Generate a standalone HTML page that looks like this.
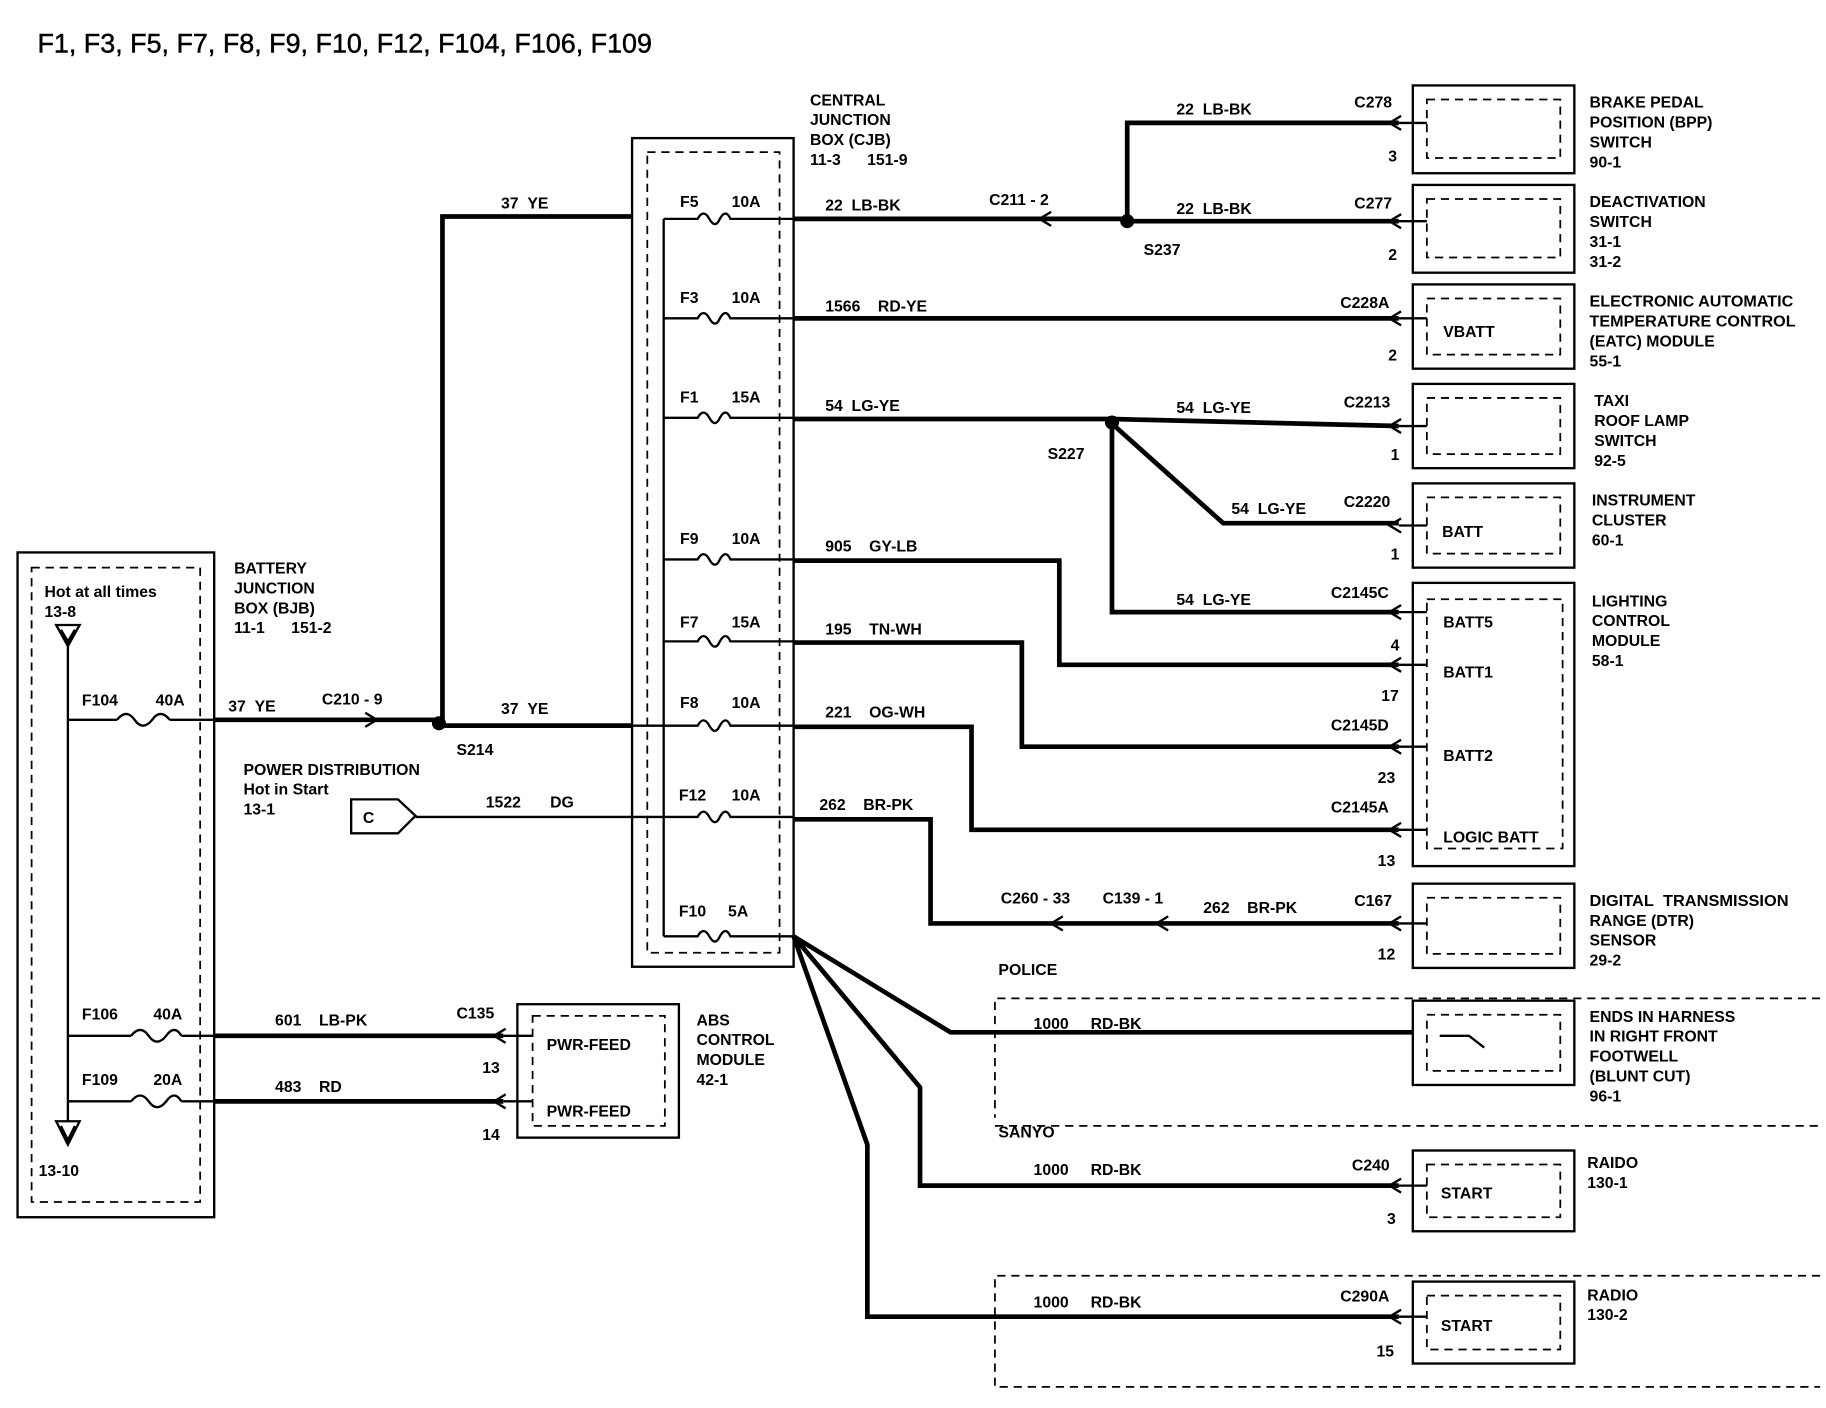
<!DOCTYPE html>
<html><head><meta charset="utf-8"><style>
html,body{margin:0;padding:0;background:#fff}
svg{display:block}
text{font-family:"Liberation Sans",sans-serif;font-size:13.5px;fill:#000;font-weight:bold}
</style></head><body>
<svg width="1826" height="1408" viewBox="0 0 1560 1203" preserveAspectRatio="none" xmlns="http://www.w3.org/2000/svg">
<rect width="1560" height="1203" fill="#fff"/>
<text x="32" y="45" textLength="525" lengthAdjust="spacingAndGlyphs" style="font-size:23px;font-weight:normal;stroke:#000;stroke-width:0.4">F1, F3, F5, F7, F8, F9, F10, F12, F104, F106, F109</text>
<g fill="none" stroke="#000" stroke-width="2">
<rect x="15" y="472" width="168" height="568"/>
<rect x="27" y="485" width="144" height="542" stroke-dasharray="7,5" stroke-width="1.5"/>
<path d="M48 534 L68 534 L58 552 Z M52 538 L58 548 L64 538"/>
<path d="M48 958 L68 958 L58 978 Z M52 962 L58 974 L64 962"/>
<path d="M58 552 V958"/>
<path d="M58 615 H100 M145 615 H183 M58 885 H112 M155 885 H183 M58 941 H112 M155 941 H183"/>
<path d="M100 615 q8 -10 15 0 q7 10 15 0 q7-10 15 0 M112 885 q8 -10 15 0 q7 10 15 0 q7-10 13 0 M112 941 q8 -10 15 0 q7 10 15 0 q7-10 13 0"/>
<rect x="540" y="118" width="138" height="708"/>
<rect x="553" y="130" width="113" height="684" stroke-dasharray="7,5" stroke-width="1.5"/>
<path d="M567 187 V800"/>
<g>
<path d="M567 187 H596 q5-9 10 0 q5 9 9 0 q5-9 9 0 H678"/>
<path d="M567 272 H596 q5-9 10 0 q5 9 9 0 q5-9 9 0 H678"/>
<path d="M567 357 H596 q5-9 10 0 q5 9 9 0 q5-9 9 0 H678"/>
<path d="M567 478 H596 q5-9 10 0 q5 9 9 0 q5-9 9 0 H678"/>
<path d="M567 548 H596 q5-9 10 0 q5 9 9 0 q5-9 9 0 H678"/>
<path d="M540 620 H596 q5-9 10 0 q5 9 9 0 q5-9 9 0 H678"/>
<path d="M355 698 H596 q5-9 10 0 q5 9 9 0 q5-9 9 0 H678"/>
<path d="M567 800 H596 q5-9 10 0 q5 9 9 0 q5-9 9 0 H678"/>
</g>
<rect x="1207" y="73" width="138" height="75"/><rect x="1219" y="85" width="114" height="50" stroke-dasharray="7,5" stroke-width="1.5"/>
<rect x="1207" y="158" width="138" height="75"/><rect x="1219" y="170" width="114" height="50" stroke-dasharray="7,5" stroke-width="1.5"/>
<rect x="1207" y="243" width="138" height="72"/><rect x="1219" y="255" width="114" height="48" stroke-dasharray="7,5" stroke-width="1.5"/>
<rect x="1207" y="328" width="138" height="72"/><rect x="1219" y="340" width="114" height="48" stroke-dasharray="7,5" stroke-width="1.5"/>
<rect x="1207" y="413" width="138" height="72"/><rect x="1219" y="425" width="114" height="48" stroke-dasharray="7,5" stroke-width="1.5"/>
<rect x="1207" y="498" width="138" height="242"/><rect x="1219" y="512" width="116" height="213" stroke-dasharray="7,5" stroke-width="1.5"/>
<rect x="1207" y="755" width="138" height="72"/><rect x="1219" y="767" width="114" height="48" stroke-dasharray="7,5" stroke-width="1.5"/>
<rect x="1207" y="855" width="138" height="72"/><rect x="1219" y="867" width="114" height="48" stroke-dasharray="7,5" stroke-width="1.5"/>
<rect x="1207" y="983" width="138" height="69"/><rect x="1219" y="995" width="114" height="45" stroke-dasharray="7,5" stroke-width="1.5"/>
<rect x="1207" y="1095" width="138" height="70"/><rect x="1219" y="1107" width="114" height="46" stroke-dasharray="7,5" stroke-width="1.5"/>
<rect x="442" y="858" width="138" height="114"/><rect x="455" y="868" width="113" height="94" stroke-dasharray="7,5" stroke-width="1.5"/>
<path d="M1230 885 H1255 L1268 895"/>
<path d="M1555 853 H850 V955 M850 962 H1555 M1555 1090 H850 V1185 H1555" stroke-dasharray="7,5" stroke-width="1.5"/>
<path d="M300 683 H340 L355 697 L340 712 H300 Z"/>
</g>
<g fill="none" stroke="#000" stroke-width="4" stroke-linejoin="miter">
<path d="M183 615 H375 M378 617 V185 H540 M375 620 H540"/>
<path d="M183 885 H430 M183 941 H430"/>
<path d="M678 187 H963 M963 189 V105 H1195 M963 189 H1195"/>
<path d="M678 272 H1195"/>
<path d="M678 358 H950 L1195 364 M950 362 L1045 447 H1195 M950 362 V523 H1195"/>
<path d="M678 479 H905 V568 H1195"/>
<path d="M678 549 H873 V638 H1195"/>
<path d="M678 621 H830 V709 H1195"/>
<path d="M678 700 H795 V789 H1195"/>
<path d="M678 800 L812 882 H1207 M678 800 L786 929 V1013 H1195 M678 800 L741 978 V1125 H1195"/>
</g>
<g fill="none" stroke="#000" stroke-width="2">
<path d="M312 609 L322 615 L312 621"/>
<path d="M898 181 L888 187 L898 193"/>
<path d="M908 783 L898 789 L908 795 M998 783 L988 789 L998 795"/>
<path d="M1197 99 L1187 105 L1197 111 M1197 183 L1187 189 L1197 195 M1197 266 L1187 272 L1197 278 M1197 358 L1187 364 L1197 370 M1197 443 L1187 449 L1197 455 M1197 517 L1187 523 L1197 529 M1197 562 L1187 568 L1197 574 M1197 632 L1187 638 L1197 644 M1197 703 L1187 709 L1197 715 M1197 783 L1187 789 L1197 795 M1197 1007 L1187 1013 L1197 1019 M1197 1119 L1187 1125 L1197 1131 M432 879 L422 885 L432 891 M432 935 L422 941 L432 947"/>
<path d="M1195 105 H1219 M1195 189 H1219 M1195 272 H1219 M1195 364 H1219 M1195 449 H1219 M1195 523 H1219 M1195 568 H1219 M1195 638 H1219 M1195 709 H1219 M1195 789 H1219 M1195 1013 H1219 M1195 1125 H1219 M430 885 H455 M430 941 H455"/>
</g>
<g fill="#000"><circle cx="375" cy="618" r="6"/><circle cx="963" cy="189" r="6"/><circle cx="950" cy="361" r="6"/></g>
<g>
<text x="38" y="510">Hot at all times</text><text x="38" y="527">13-8</text><text x="33" y="1005">13-10</text>
<text x="70" y="603">F104</text><text x="133" y="603">40A</text>
<text x="70" y="871">F106</text><text x="131" y="871">40A</text>
<text x="70" y="927">F109</text><text x="131" y="927">20A</text>
<text x="200" y="490">BATTERY</text><text x="200" y="507">JUNCTION</text><text x="200" y="524">BOX (BJB)</text><text x="200" y="541">11-1&#160;&#160;&#160;&#160;&#160;&#160;151-2</text>
<text x="195" y="608">37&#160;&#160;YE</text><text x="275" y="602">C210&#160;-&#160;9</text><text x="428" y="178">37&#160;&#160;YE</text><text x="428" y="610">37&#160;&#160;YE</text><text x="390" y="645">S214</text>
<text x="208" y="662">POWER DISTRIBUTION</text><text x="208" y="679">Hot in Start</text><text x="208" y="696">13-1</text>
<text x="310" y="703">C</text><text x="415" y="690">1522</text><text x="470" y="690">DG</text>
<text x="692" y="90">CENTRAL</text><text x="692" y="107">JUNCTION</text><text x="692" y="124">BOX (CJB)</text><text x="692" y="141">11-3&#160;&#160;&#160;&#160;&#160;&#160;151-9</text>
<text x="581" y="177">F5</text><text x="625" y="177">10A</text>
<text x="581" y="259">F3</text><text x="625" y="259">10A</text>
<text x="581" y="344">F1</text><text x="625" y="344">15A</text>
<text x="581" y="465">F9</text><text x="625" y="465">10A</text>
<text x="581" y="536">F7</text><text x="625" y="536">15A</text>
<text x="581" y="605">F8</text><text x="625" y="605">10A</text>
<text x="580" y="684">F12</text><text x="625" y="684">10A</text>
<text x="580" y="783">F10</text><text x="622" y="783">5A</text>
<text x="705" y="180">22&#160;&#160;LB-BK</text><text x="845" y="175">C211&#160;-&#160;2</text><text x="977" y="218">S237</text>
<text x="1005" y="98">22&#160;&#160;LB-BK</text><text x="1157" y="92">C278</text><text x="1186" y="138">3</text>
<text x="1005" y="183">22&#160;&#160;LB-BK</text><text x="1157" y="178">C277</text><text x="1186" y="222">2</text>
<text x="705" y="266">1566&#160;&#160;&#160;&#160;RD-YE</text><text x="1145" y="263">C228A</text><text x="1186" y="308">2</text>
<text x="705" y="351">54&#160;&#160;LG-YE</text><text x="895" y="392">S227</text>
<text x="1005" y="353">54&#160;&#160;LG-YE</text><text x="1148" y="348">C2213</text><text x="1188" y="393">1</text>
<text x="1052" y="439">54&#160;&#160;LG-YE</text><text x="1148" y="433">C2220</text><text x="1188" y="478">1</text>
<text x="1005" y="517">54&#160;&#160;LG-YE</text><text x="1137" y="511">C2145C</text><text x="1188" y="556">4</text>
<text x="705" y="471">905&#160;&#160;&#160;&#160;GY-LB</text><text x="1180" y="599">17</text>
<text x="705" y="542">195&#160;&#160;&#160;&#160;TN-WH</text><text x="1137" y="624">C2145D</text><text x="1177" y="669">23</text>
<text x="705" y="613">221&#160;&#160;&#160;&#160;OG-WH</text><text x="1137" y="694">C2145A</text><text x="1177" y="740">13</text>
<text x="700" y="692">262&#160;&#160;&#160;&#160;BR-PK</text>
<text x="855" y="772">C260&#160;-&#160;33</text><text x="942" y="772">C139&#160;-&#160;1</text><text x="1028" y="780">262&#160;&#160;&#160;&#160;BR-PK</text><text x="1157" y="774">C167</text><text x="1177" y="820">12</text>
<text x="853" y="833">POLICE</text><text x="883" y="879">1000&#160;&#160;&#160;&#160;&#160;RD-BK</text><text x="853" y="972">SANYO</text>
<text x="883" y="1004">1000&#160;&#160;&#160;&#160;&#160;RD-BK</text><text x="1155" y="1000">C240</text><text x="1185" y="1046">3</text>
<text x="883" y="1117">1000&#160;&#160;&#160;&#160;&#160;RD-BK</text><text x="1145" y="1112">C290A</text><text x="1176" y="1159">15</text>
<text x="235" y="876">601&#160;&#160;&#160;&#160;LB-PK</text><text x="390" y="870">C135</text><text x="412" y="917">13</text>
<text x="235" y="933">483&#160;&#160;&#160;&#160;RD</text><text x="412" y="974">14</text>
<text x="467" y="897">PWR-FEED</text><text x="467" y="954">PWR-FEED</text>
<text x="595" y="876">ABS</text><text x="595" y="893">CONTROL</text><text x="595" y="910">MODULE</text><text x="595" y="927">42-1</text>
<text x="1233" y="288">VBATT</text><text x="1232" y="459">BATT</text>
<text x="1233" y="536">BATT5</text><text x="1233" y="579">BATT1</text><text x="1233" y="650">BATT2</text><text x="1233" y="720">LOGIC BATT</text>
<text x="1231" y="1024">START</text><text x="1231" y="1137">START</text>
<text x="1358" y="92">BRAKE PEDAL</text><text x="1358" y="109">POSITION (BPP)</text><text x="1358" y="126">SWITCH</text><text x="1358" y="143">90-1</text>
<text x="1358" y="177">DEACTIVATION</text><text x="1358" y="194">SWITCH</text><text x="1358" y="211">31-1</text><text x="1358" y="228">31-2</text>
<text x="1358" y="262" textLength="174" lengthAdjust="spacingAndGlyphs">ELECTRONIC AUTOMATIC</text><text x="1358" y="279" textLength="176" lengthAdjust="spacingAndGlyphs">TEMPERATURE CONTROL</text><text x="1358" y="296">(EATC) MODULE</text><text x="1358" y="313">55-1</text>
<text x="1362" y="347">TAXI</text><text x="1362" y="364">ROOF LAMP</text><text x="1362" y="381">SWITCH</text><text x="1362" y="398">92-5</text>
<text x="1360" y="432">INSTRUMENT</text><text x="1360" y="449">CLUSTER</text><text x="1360" y="466">60-1</text>
<text x="1360" y="518">LIGHTING</text><text x="1360" y="535">CONTROL</text><text x="1360" y="552">MODULE</text><text x="1360" y="569">58-1</text>
<text x="1358" y="774" textLength="170" lengthAdjust="spacingAndGlyphs">DIGITAL&#160;&#160;TRANSMISSION</text><text x="1358" y="791">RANGE (DTR)</text><text x="1358" y="808">SENSOR</text><text x="1358" y="825">29-2</text>
<text x="1358" y="873">ENDS IN HARNESS</text><text x="1358" y="890">IN RIGHT FRONT</text><text x="1358" y="907">FOOTWELL</text><text x="1358" y="924">(BLUNT CUT)</text><text x="1358" y="941">96-1</text>
<text x="1356" y="998">RAIDO</text><text x="1356" y="1015">130-1</text>
<text x="1356" y="1111">RADIO</text><text x="1356" y="1128">130-2</text>
</g>
</svg>
</body></html>
